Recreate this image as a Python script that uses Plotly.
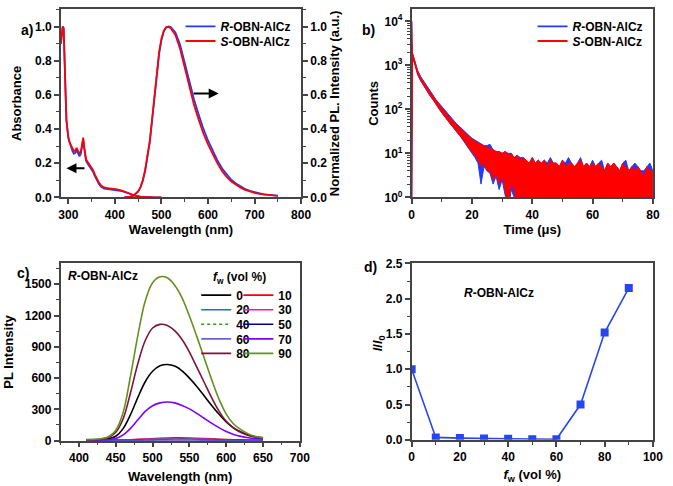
import plotly.graph_objects as go

# ---------------- Panel a data ----------------
abs_wl = [284, 286, 288, 290, 292, 294, 296, 298, 300, 303, 306, 309, 312, 315, 318, 321, 324, 327, 330, 332,
          334, 336, 338, 341, 345, 349, 353, 357, 361, 366, 371, 377, 385, 395, 405, 415, 425, 435, 445, 455,
          465, 475, 485, 500]
abs_S = [0.90, 0.96, 1.0, 0.99, 0.85, 0.62, 0.45, 0.38, 0.35, 0.32, 0.30, 0.28, 0.27, 0.275, 0.29, 0.27, 0.255, 0.27, 0.34, 0.35,
         0.30, 0.245, 0.225, 0.21, 0.195, 0.18, 0.16, 0.135, 0.11, 0.085, 0.068, 0.058, 0.054, 0.051, 0.047, 0.04, 0.03, 0.018, 0.009, 0.004,
         0.002, 0.001, 0.0, 0.0]
abs_R = [0.90, 0.96, 1.0, 0.99, 0.85, 0.62, 0.45, 0.38, 0.35, 0.32, 0.29, 0.27, 0.255, 0.26, 0.275, 0.255, 0.24, 0.255, 0.325, 0.34,
         0.29, 0.235, 0.215, 0.2, 0.185, 0.17, 0.15, 0.125, 0.1, 0.076, 0.06, 0.051, 0.048, 0.045, 0.042, 0.036, 0.027, 0.016, 0.008, 0.004,
         0.002, 0.001, 0.0, 0.0]
pl_wl = [420, 430, 440, 445, 450, 455, 460, 465, 470, 475, 480, 485, 490, 495, 500, 505, 510, 515, 520, 525,
         530, 540, 550, 560, 570, 580, 590, 600, 610, 620, 630, 640, 650, 660, 670, 680, 690, 700, 710, 720,
         730, 740, 750]
pl_S = [0.0, 0.002, 0.01, 0.02, 0.035, 0.06, 0.1, 0.16, 0.24, 0.33, 0.46, 0.6, 0.74, 0.85, 0.93, 0.975, 0.997, 0.998, 0.99, 0.97,
        0.95, 0.87, 0.76, 0.64, 0.54, 0.455, 0.375, 0.31, 0.25, 0.2, 0.155, 0.12, 0.093, 0.073, 0.057, 0.044, 0.034, 0.026, 0.02, 0.016,
        0.013, 0.011, 0.009]
pl_R = [0.0, 0.002, 0.01, 0.02, 0.034, 0.058, 0.097, 0.155, 0.235, 0.325, 0.45, 0.59, 0.73, 0.84, 0.92, 0.97, 0.993, 1.0, 0.997, 0.983,
        0.965, 0.895, 0.79, 0.675, 0.573, 0.485, 0.402, 0.333, 0.271, 0.218, 0.17, 0.133, 0.103, 0.081, 0.063, 0.049, 0.038, 0.03, 0.023, 0.018,
        0.015, 0.012, 0.01]

# ---------------- Panel b data (decay envelope, counts) ----------------
t_hi = [0, 0, 0.15, 0.3, 1, 2, 3, 4, 5, 6, 7, 8, 9, 10, 11, 12, 13, 14, 15, 16, 17, 18, 19, 20, 21, 22, 23, 24, 25, 26, 27, 28, 29,
        30, 31, 32, 33, 34, 35, 36, 37, 38, 39, 40, 41, 42, 43, 44, 45, 46, 47, 48, 49, 50, 51, 52, 53, 54, 55,
        56, 57, 58, 59, 60, 61, 62, 63, 64, 65, 66, 67, 68, 69, 70, 71, 72, 73, 74, 75, 76, 77, 78, 79, 80]
red_hi = [0.5, 10000, 3000, 1850, 1280, 730, 530, 410, 320, 250, 205, 160, 133, 108, 88, 73, 61, 52, 44, 38, 32, 28, 24, 21, 19, 17, 16, 15, 14, 13, 12, 11, 11,
          10, 11, 9, 10, 8, 9, 7, 8, 7, 6, 8, 6, 7, 6, 7, 5, 7, 6, 6, 5, 7, 5, 6, 6, 5, 6,
          7, 5, 6, 5, 6, 5, 6, 5, 4, 6, 5, 6, 5, 4, 6, 5, 4, 5, 4, 5, 4, 3, 5, 4, 4]
blue_hi = [0.5, 10000, 3000, 1900, 1320, 760, 555, 430, 338, 263, 215, 168, 140, 114, 93, 77, 64, 55, 46, 40, 34, 29, 25, 22, 20, 18, 16, 15, 15, 16, 12, 11, 11,
           10, 11, 10, 10, 8, 9, 8, 8, 7, 6, 8, 6, 7, 6, 7, 6, 8, 6, 6, 5, 7, 6, 8, 6, 5, 6,
           8, 5, 6, 5, 7, 5, 6, 7, 4, 6, 5, 6, 5, 4, 6, 7, 4, 5, 6, 5, 4, 4, 5, 6, 4]
t_lo = [0, 0.3, 1, 2, 3, 4, 5, 6, 7, 8, 9, 10, 11, 12, 13, 14, 15, 16, 17, 18, 19, 20, 21, 22, 23, 24, 25, 26, 27, 28, 29, 30,
        31, 32, 33, 34, 35, 80]
red_lo = [0.5, 1500, 1100, 620, 450, 345, 270, 210, 170, 130, 106, 85, 68, 55, 45, 38, 31, 26, 21, 17, 13, 11, 9, 7, 5, 6, 4, 4,
          2.5, 3.5, 2, 3, 1.5, 0.5, 2, 1.5, 0.5, 0.5]
blue_lo = [0.5, 1480, 1080, 610, 445, 340, 265, 207, 168, 128, 104, 83, 67, 54, 44, 37, 30, 25, 20, 16, 12, 10, 8, 6, 2, 5, 4, 3.5,
           2, 3, 1.5, 2.5, 1, 0.5, 1.5, 1, 0.5, 0.5]

# ---------------- Panel c data ----------------
wl_c = [410, 420, 430, 440, 450, 460, 470, 480, 490, 500, 510, 520, 530, 540, 550, 560, 570, 580, 590, 600, 610, 620, 630, 640, 650]
I0 = [5, 6, 9, 17, 42, 115, 250, 415, 565, 665, 718, 730, 715, 670, 600, 520, 430, 340, 255, 180, 122, 82, 55, 37, 26]
I70 = [3, 4, 5, 9, 20, 55, 118, 200, 280, 335, 362, 370, 362, 338, 305, 262, 215, 168, 125, 88, 60, 41, 28, 20, 15]
I80 = [8, 9, 14, 30, 80, 210, 460, 740, 960, 1080, 1115, 1105, 1055, 970, 850, 705, 560, 415, 285, 185, 120, 78, 50, 34, 25]
I90 = [10, 12, 18, 37, 100, 270, 620, 1010, 1340, 1515, 1572, 1562, 1490, 1370, 1195, 1000, 795, 590, 400, 255, 160, 105, 65, 40, 30]
wl_s = [410, 430, 450, 470, 490, 510, 530, 550, 570, 590, 610, 630, 650]
I10 = [1, 2, 4, 9, 16, 23, 27, 26, 21, 14, 8, 4, 2]
I20 = [1, 1, 3, 6, 11, 15, 18, 17, 14, 10, 6, 3, 2]
I30 = [1, 1, 3, 6, 10, 14, 16, 15, 12, 8, 5, 3, 1]
I40 = [1, 1, 2, 5, 8, 11, 12, 12, 9, 6, 4, 2, 1]
I50 = [0, 1, 2, 4, 6, 8, 9, 9, 7, 5, 3, 2, 1]
I60 = [0, 1, 1, 3, 5, 6, 7, 7, 5, 4, 2, 1, 1]

# ---------------- Panel d data ----------------
fw = [0, 10, 20, 30, 40, 50, 60, 70, 80, 90]
ratio = [1.0, 0.035, 0.025, 0.02, 0.015, 0.01, 0.008, 0.5, 1.52, 2.15]

BLUE = 'rgb(30,60,255)'
RED = 'rgb(255,0,0)'
AX = '#444444'
FONT = 'Liberation Sans, Arial, sans-serif'
LEGFONT = dict(family=FONT, size=12, color='black', weight='bold')

fig = go.Figure()

# Panel a
fig.add_trace(go.Scatter(x=abs_wl, y=abs_R, mode='lines', line=dict(color=BLUE, width=1.8), showlegend=False, xaxis='x', yaxis='y'))
fig.add_trace(go.Scatter(x=abs_wl, y=abs_S, mode='lines', line=dict(color=RED, width=1.8), showlegend=False, xaxis='x', yaxis='y'))
fig.add_trace(go.Scatter(x=pl_wl, y=pl_R, mode='lines', line=dict(color=BLUE, width=1.8), name='<i>R</i>-OBN-AlCz',
                         legend='legend', xaxis='x', yaxis='y2'))
fig.add_trace(go.Scatter(x=pl_wl, y=pl_S, mode='lines', line=dict(color=RED, width=1.8), name='<i>S</i>-OBN-AlCz',
                         legend='legend2', xaxis='x', yaxis='y2'))

# Panel b
fig.add_trace(go.Scatter(x=t_lo, y=blue_lo, mode='lines', line=dict(color=BLUE, width=1), showlegend=False, xaxis='x2', yaxis='y3'))
fig.add_trace(go.Scatter(x=t_hi, y=blue_hi, mode='lines', line=dict(color=BLUE, width=1), fill='tonexty', fillcolor=BLUE,
                         showlegend=False, xaxis='x2', yaxis='y3'))
fig.add_trace(go.Scatter(x=t_lo, y=red_lo, mode='lines', line=dict(color=RED, width=1), showlegend=False, xaxis='x2', yaxis='y3'))
fig.add_trace(go.Scatter(x=t_hi, y=red_hi, mode='lines', line=dict(color=RED, width=1), fill='tonexty', fillcolor=RED,
                         showlegend=False, xaxis='x2', yaxis='y3'))
fig.add_trace(go.Scatter(x=[None], y=[None], mode='lines', line=dict(color=BLUE, width=1.8), name='<i>R</i>-OBN-AlCz',
                         legend='legend3', xaxis='x2', yaxis='y3'))
fig.add_trace(go.Scatter(x=[None], y=[None], mode='lines', line=dict(color=RED, width=1.8), name='<i>S</i>-OBN-AlCz',
                         legend='legend4', xaxis='x2', yaxis='y3'))

# Panel c
series_c = [
    ('0', wl_c, I0, 'black', 'solid'),
    ('10', wl_s, I10, 'rgb(255,0,0)', 'solid'),
    ('20', wl_s, I20, 'rgb(30,100,255)', 'solid'),
    ('30', wl_s, I30, 'rgb(230,30,180)', 'solid'),
    ('40', wl_s, I40, 'rgb(40,160,20)', 'dot'),
    ('50', wl_s, I50, 'rgb(0,0,140)', 'solid'),
    ('60', wl_s, I60, 'rgb(100,100,220)', 'solid'),
    ('70', wl_c, I70, 'rgb(128,0,255)', 'solid'),
    ('80', wl_c, I80, 'rgb(125,20,60)', 'solid'),
    ('90', wl_c, I90, 'rgb(100,145,30)', 'solid'),
]
for i, (name, xs, ys, col, dash) in enumerate(series_c):
    fig.add_trace(go.Scatter(x=xs, y=ys, mode='lines', line=dict(color=col, width=1.6, dash=dash, shape='spline'),
                             name=name, legend='legend%d' % (5 + i), xaxis='x3', yaxis='y4'))

# Panel d
fig.add_trace(go.Scatter(x=fw, y=ratio, mode='lines+markers', line=dict(color='rgb(40,70,240)', width=1.6),
                         marker=dict(symbol='square', size=8, color='rgb(40,70,240)'), showlegend=False,
                         xaxis='x4', yaxis='y5'))


def axstyle(**kw):
    d = dict(showline=True, linecolor=AX, linewidth=1.5, mirror=True, ticks='outside', ticklen=5, tickwidth=1.5,
             tickcolor=AX, showgrid=False, zeroline=False,
             tickfont=dict(family=FONT, size=12, color='black', weight='bold'),
             title_font=dict(family=FONT, size=13, color='black', weight='bold'))
    d.update(kw)
    return d


def minor(dt):
    return dict(ticks='outside', ticklen=3, tickwidth=1.2, tickcolor=AX, dtick=dt, showgrid=False)


def leg(xpx, ypx):
    return dict(x=xpx / 673, y=1 - ypx / 486, xanchor='left', yanchor='middle', bgcolor='rgba(0,0,0,0)',
                font=LEGFONT, itemwidth=30, traceorder='normal')


ya = [1 - 196 / 486, 1 - 2.5 / 486]
yc = [1 - 446.5 / 486, 1 - 264 / 486]

layout = dict(
    width=673, height=486, autosize=False,
    margin=dict(l=0, r=0, t=0, b=0),
    plot_bgcolor='white', paper_bgcolor='white',
    font=dict(family=FONT, size=12, color='black', weight='bold'),
    xaxis=axstyle(domain=[59 / 673, 304 / 673], anchor='y', range=[284, 800], dtick=100, minor=minor(50),
                  title=dict(text='Wavelength (nm)', standoff=4)),
    yaxis=axstyle(domain=ya, anchor='x', range=[0, 1.1], dtick=0.2, tickformat='.1f', minor=minor(0.1),
                  mirror=False, title=dict(text='Absorbance', standoff=10)),
    yaxis2=axstyle(domain=ya, anchor='x', overlaying='y', side='right', range=[0, 1.1], dtick=0.2, tickformat='.1f',
                   minor=minor(0.1), mirror=False, title=dict(text='Normalized PL. Intensity (a.u.)', standoff=4)),
    xaxis2=axstyle(domain=[416.7 / 673, 662.7 / 673], anchor='y3', range=[0, 80], dtick=20, minor=minor(10),
                   title=dict(text='Time (μs)', standoff=4)),
    yaxis3=axstyle(domain=ya, anchor='x2', type='log', range=[0, 4.27], tickmode='array',
                   tickvals=[1, 10, 100, 1000, 10000],
                   ticktext=['10<sup>0</sup>', '10<sup>1</sup>', '10<sup>2</sup>', '10<sup>3</sup>', '10<sup>4</sup>'],
                   minor=dict(ticks='outside', ticklen=3, tickwidth=1, tickcolor=AX, dtick='D1', showgrid=False),
                   title=dict(text='Counts', standoff=3)),
    xaxis3=axstyle(domain=[58.7 / 673, 302.7 / 673], anchor='y4', range=[375, 700], dtick=50, minor=minor(25),
                   title=dict(text='Wavelength (nm)', standoff=8)),
    yaxis4=axstyle(domain=yc, anchor='x3', range=[0, 1700], dtick=300, minor=minor(150),
                   title=dict(text='PL Intensity', standoff=8)),
    xaxis4=axstyle(domain=[416.7 / 673, 662.7 / 673], anchor='y5', range=[0, 100], dtick=20, minor=minor(10),
                   title=dict(text='<i>f</i><sub>w</sub> (vol %)', standoff=7)),
    yaxis5=axstyle(domain=[1 - 445.7 / 486, 1 - 264 / 486], anchor='x4', range=[0, 2.5], dtick=0.5, tickformat='.1f',
                   minor=minor(0.25)),
    legend=leg(181, 20), legend2=leg(181, 35),
    legend3=leg(540, 20), legend4=leg(540, 35),
)
rows = [296.7, 296.7, 311.7, 311.7, 326.7, 326.7, 341.7, 341.7, 356.7, 356.7]
for i in range(10):
    layout['legend%d' % (5 + i)] = leg(197 if i % 2 == 0 else 240, rows[i])
fig.update_layout(**layout)

ann = [
    dict(text='a)', x=16 / 673, y=1 - 13 / 486, xref='paper', yref='paper', showarrow=False, font=dict(size=14)),
    dict(text='b)', x=373 / 673, y=1 - 13 / 486, xref='paper', yref='paper', showarrow=False, font=dict(size=14)),
    dict(text='c)', x=12 / 673, y=1 - 274 / 486, xref='paper', yref='paper', showarrow=False, font=dict(size=14)),
    dict(text='d)', x=375 / 673, y=1 - 268 / 486, xref='paper', yref='paper', showarrow=False, font=dict(size=14)),
    dict(text='<i>I</i>/<i>I</i><sub>0</sub>', x=383 / 673, y=1 - 357 / 486, xref='paper', yref='paper',
         textangle=-90, showarrow=False, font=dict(size=13)),
    dict(text='<i>R</i>-OBN-AlCz', x=64 / 673, y=1 - 277 / 486, xref='paper', yref='paper', xanchor='left',
         showarrow=False, font=dict(size=12)),
    dict(text='<i>f</i><sub>w</sub> (vol %)', x=212 / 673, y=1 - 279 / 486, xref='paper', yref='paper', xanchor='left',
         showarrow=False, font=dict(size=12)),
    dict(text='<i>R</i>-OBN-AlCz', x=468 / 673, y=1 - 294 / 486, xref='paper', yref='paper', xanchor='left',
         showarrow=False, font=dict(size=12)),
    dict(text='', x=296, y=0.17, ax=338, ay=0.17, xref='x', yref='y', axref='x', ayref='y', showarrow=True,
         arrowhead=2, arrowsize=1, arrowwidth=2, arrowcolor='black'),
    dict(text='', x=623, y=0.608, ax=566, ay=0.608, xref='x', yref='y', axref='x', ayref='y', showarrow=True,
         arrowhead=2, arrowsize=1, arrowwidth=2, arrowcolor='black'),
]
fig.update_layout(annotations=ann)

fig.write_html('out.html', config={'displayModeBar': False},
               post_script="document.body.style.margin='0';document.documentElement.style.margin='0';")
